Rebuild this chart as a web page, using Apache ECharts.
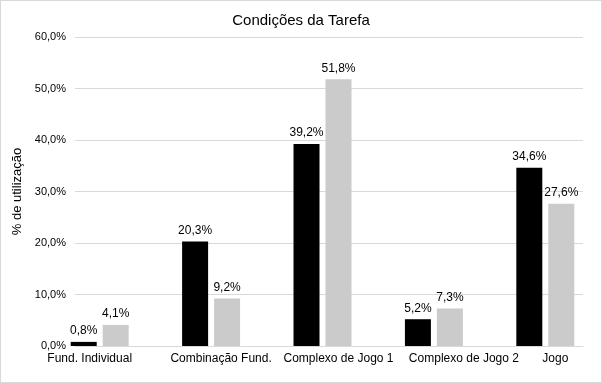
<!DOCTYPE html>
<html>
<head>
<meta charset="utf-8">
<script src="https://cdn.jsdelivr.net/npm/echarts@6/dist/echarts.min.js"></script>
<style>
  html, body { margin: 0; padding: 0; background: #fff; }
  #chart { width: 602px; height: 383px; box-sizing: border-box; border: 1px solid #d9d9d9; }
</style>
</head>
<body>
<div id="chart"></div>
<script>
  var categories = ['Fund. Individual', 'Combinação Fund.', 'Complexo de Jogo 1', 'Complexo de Jogo 2', 'Jogo']
  var serieA = [0.8, 20.3, 39.2, 5.2, 34.6]
  var serieB = [4.1, 9.2, 51.8, 7.3, 27.6]
  var yTicks = [0, 10, 20, 30, 40, 50, 60]

  // the original places its category labels a bit off-center
  var labelShift = [-10, 10, 16, 30, 10]

  function pct(v) {
    return v.toFixed(1).replace('.', ',') + '%'
  }

  var chart = echarts.init(document.getElementById('chart'))
  var font = 'Liberation Sans'
  var labelStyle = {
    show: true,
    position: 'top',
    distance: 5,
    color: '#000',
    fontFamily: font,
    fontSize: 12,
    formatter: function (p) { return pct(p.value) }
  }

  var catData = categories.map(function (c, i) {
    var s = labelShift[i]
    return {
      value: c,
      textStyle: { padding: s >= 0 ? [0, 0, 0, 2 * s] : [0, -2 * s, 0, 0] }
    }
  })

  chart.setOption({
    backgroundColor: '#fff',
    animation: false,
    title: {
      text: 'Condições da Tarefa',
      left: 'center',
      top: 7,
      textStyle: { fontFamily: font, fontWeight: 'normal', fontSize: 15, color: '#000' }
    },
    // grid 0: plot frame with gridlines, grid 1: the bar groups (wider spread, like the original)
    grid: [
      { left: 74, right: 18, top: 36, bottom: 36 },
      { left: 43, right: -15, top: 36, bottom: 36 }
    ],
    xAxis: [
      {
        type: 'value',
        gridIndex: 0,
        min: 0,
        max: 1,
        axisLine: { show: true, onZero: false, lineStyle: { color: '#d9d9d9' } },
        axisTick: { show: false },
        axisLabel: { show: false },
        splitLine: { show: false }
      },
      {
        type: 'category',
        gridIndex: 1,
        data: catData,
        axisTick: { show: false },
        axisLine: { show: false },
        axisLabel: { color: '#000', fontFamily: font, fontSize: 12, margin: 7, interval: 0 }
      }
    ],
    yAxis: [
      {
        type: 'value',
        gridIndex: 0,
        min: yTicks[0],
        max: yTicks[yTicks.length - 1],
        interval: 10,
        name: '% de utilização',
        nameLocation: 'middle',
        nameRotate: 90,
        nameGap: 48,
        nameTextStyle: { color: '#000', fontFamily: font, fontSize: 13 },
        axisLine: { show: false },
        axisTick: { show: false },
        axisLabel: {
          color: '#000',
          fontFamily: font,
          fontSize: 11,
          margin: 9,
          formatter: function (v) { return pct(v) }
        },
        splitLine: { lineStyle: { color: '#d9d9d9' } }
      },
      {
        type: 'value',
        gridIndex: 1,
        min: yTicks[0],
        max: yTicks[yTicks.length - 1],
        show: false
      }
    ],
    series: [
      {
        type: 'bar',
        xAxisIndex: 1,
        yAxisIndex: 1,
        data: serieA,
        barWidth: 26,
        barGap: '23%',
        itemStyle: { color: '#000' },
        label: labelStyle
      },
      {
        type: 'bar',
        xAxisIndex: 1,
        yAxisIndex: 1,
        data: serieB,
        barWidth: 26,
        itemStyle: { color: '#cbcbcb' },
        label: labelStyle
      }
    ]
  })
</script>
</body>
</html>
